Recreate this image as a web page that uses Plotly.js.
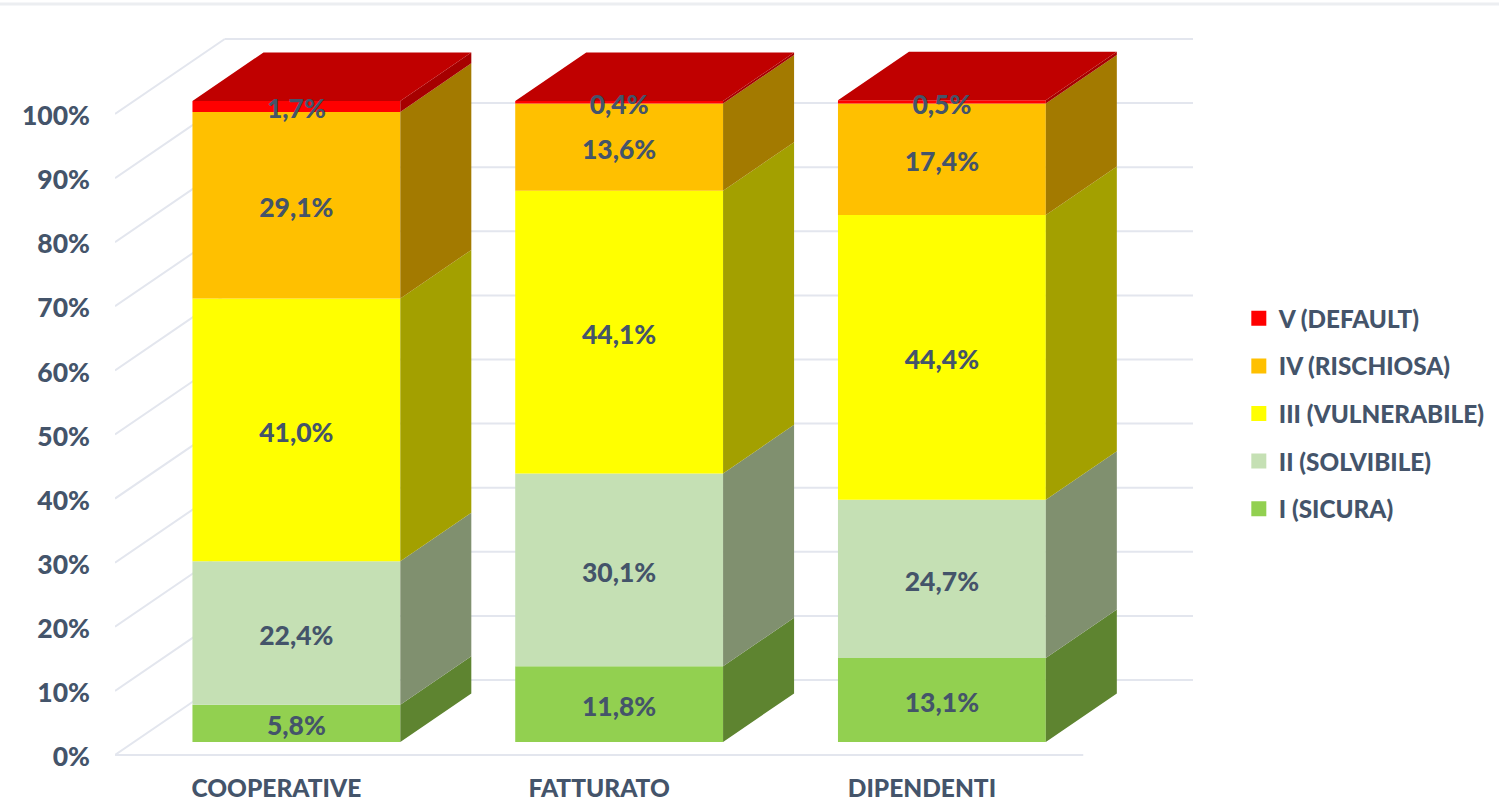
<!DOCTYPE html>
<html><head><meta charset="utf-8">
<script src="https://cdn.plot.ly/plotly-3.0.1.min.js"></script>
<style>html,body{margin:0;padding:0;background:#fff;overflow:hidden}</style>
</head><body><div id="chart" style="width:1499px;height:802px"></div>
<script>
const categories = ["COOPERATIVE","FATTURATO","DIPENDENTI"];
const seriesNames = ["I (SICURA)","II (SOLVIBILE)","III (VULNERABILE)","IV (RISCHIOSA)","V (DEFAULT)"];
const sicura = [5.8,11.8,13.1];
const solvibile = [22.4,30.1,24.7];
const vulnerabile = [41.0,44.1,44.4];
const rischiosa = [29.1,13.6,17.4];
const defaultV = [1.7,0.4,0.5];
const frontColors = ["#92d050","#c5e0b4","#ffff00","#ffc000","#ff0000"];
const sideColors = ["#5e8430","#80906f","#a3a000","#a37a00","#a60000"];
const topColor = "#c00000";
const ink = "#44546a";
const gridColor = "#e3e6ee";
const gridTicks = [0,10,20,30,40,50,60,70,80,90,100];

const FONT = "Lato, sans-serif";
const series = [sicura,solvibile,vulnerabile,rischiosa,defaultV];
const positions = categories.map((c,i)=>i);
// 3D projection, expressed in axis units
const barW = 0.644, liftX = 0.062, liftY = 2.03, depthX = 0.22, depthY = 7.57, wallX = 0.34, wallY = 11.7;
const labelDrop = 0.8, tickDrop = 0.3;

const traces = [];
const bases = categories.map(()=>liftY);
const cum = [];
series.forEach((vals)=>{
  const b = bases.slice(); cum.push(b);
  vals.forEach((v,i)=>bases[i]+=v);
});
// side faces
series.forEach((vals,s)=>{
  const xs=[],ys=[];
  vals.forEach((v,i)=>{
    const xr = positions[i]+liftX+barW/2, b=cum[s][i], t=b+v;
    xs.push(xr,xr+depthX,xr+depthX,xr,xr,null);
    ys.push(b,b+depthY,t+depthY,t,b,null);
  });
  traces.push({type:"scatter",mode:"lines",x:xs,y:ys,fill:"toself",fillcolor:sideColors[s],line:{width:0,color:sideColors[s]},showlegend:false,hoverinfo:"skip"});
});
// top faces
{
  const xs=[],ys=[];
  categories.forEach((c,i)=>{
    const xl=positions[i]+liftX-barW/2, xr=xl+barW, t=bases[i];
    xs.push(xl,xr,xr+depthX,xl+depthX,xl,null);
    ys.push(t,t,t+depthY,t+depthY,t,null);
  });
  traces.push({type:"scatter",mode:"lines",x:xs,y:ys,fill:"toself",fillcolor:topColor,line:{width:0,color:topColor},showlegend:false,hoverinfo:"skip"});
}
// front faces
series.forEach((vals,s)=>{
  traces.push({type:"bar",name:seriesNames[s],x:positions.map(p=>p+liftX),y:vals,base:cum[s],width:barW,
    marker:{color:frontColors[s],line:{width:0}},hoverinfo:"skip",showlegend:false});
});
// data labels
series.forEach((vals,s)=>{
  traces.push({type:"scatter",mode:"text",x:positions.map(p=>p+liftX),y:vals.map((v,i)=>cum[s][i]+v/2-labelDrop),
    text:vals.map(v=>v.toFixed(1).replace(".",",")+"%"),textposition:"middle center",
    textfont:{family:FONT,size:26.5,color:ink,weight:900},showlegend:false,hoverinfo:"skip",cliponaxis:false});
});
// legend keys, top series first
for(let s=series.length-1;s>=0;s--){
  traces.push({type:"scatter",mode:"markers",name:seriesNames[s],legendgroup:seriesNames[s],x:[null],y:[null],
    marker:{symbol:"square",size:15,color:frontColors[s]},hoverinfo:"skip"});
}

const yMin = -2.5, yScale = 6.41;           // pixels per percent
const bottomPx = 755 - yMin*yScale, topPx = 30, plotH = bottomPx - topPx;
const line = {color:gridColor,width:2};
const shapes = [];
gridTicks.forEach(g=>{
  shapes.push({type:"line",layer:"below",xref:"x",yref:"y",x0:-0.5,y0:g,x1:-0.5+wallX,y1:g+wallY,line});
  shapes.push({type:"line",layer:"below",xref:"x",yref:"y",x0:-0.5+wallX,y0:g+wallY,x1:2.5+wallX,y1:g+wallY,line});
});
shapes.push({type:"line",layer:"below",xref:"x",yref:"y",x0:-0.5,y0:0,x1:2.5,y1:0,line});
const pageRule = (bottomPx-4)/plotH;
shapes.push({type:"line",layer:"below",xref:"paper",yref:"paper",x0:-0.2,x1:1.5,y0:pageRule,y1:pageRule,line:{color:"#eceef1",width:3}});

const layout = {
  width:1499,height:802,autosize:false,
  margin:{l:114.5,r:305.5,t:topPx,b:802-bottomPx,pad:0,autoexpand:false},
  paper_bgcolor:"#fff",plot_bgcolor:"rgba(0,0,0,0)",
  barmode:"overlay",hovermode:false,
  xaxis:{range:[-0.5,2.5+wallX],tickmode:"array",tickvals:positions,ticktext:categories,showgrid:false,zeroline:false,showline:false,
    ticks:"",ticklabelstandoff:0,tickfont:{family:FONT,size:24.5,color:ink,weight:900}},
  yaxis:{range:[yMin,(755-topPx)/yScale],tickmode:"array",tickvals:gridTicks.map(g=>g-tickDrop),ticktext:gridTicks.map(g=>g+"%"),showgrid:false,zeroline:false,showline:false,
    ticks:"",ticklabelstandoff:24,tickfont:{family:FONT,size:26.5,color:ink,weight:900}},
  legend:{x:1.0425,y:(bottomPx-296)/plotH,xanchor:"left",yanchor:"top",traceorder:"grouped",tracegroupgap:13,itemclick:false,itemdoubleclick:false,itemsizing:"trace",
    font:{family:FONT,size:24.3,color:ink,weight:900},bgcolor:"rgba(0,0,0,0)"},
  shapes
};
Plotly.newPlot("chart",traces,layout,{displayModeBar:false,staticPlot:true});
</script></body></html>
